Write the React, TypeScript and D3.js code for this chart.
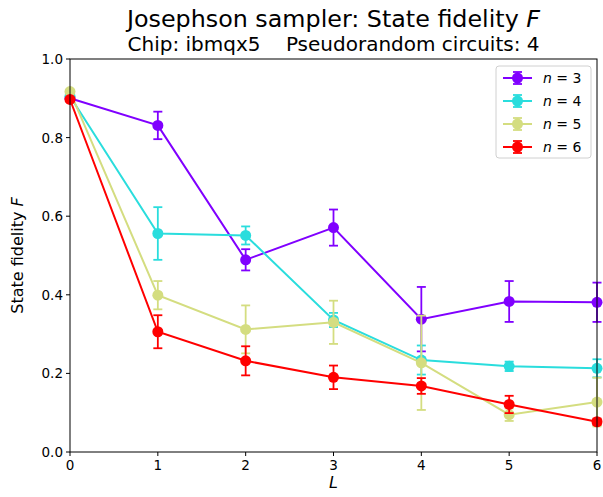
import React from "react";
import * as d3 from "d3";

const Ls = [0, 1, 2, 3, 4, 5, 6];
const seriesNames = ["3", "4", "5", "6"];
const colors = ["#8000ff", "#2adddd", "#d4dd80", "#ff0000"];
const values3 = [0.9, 0.831, 0.489, 0.571, 0.338, 0.383, 0.381];
const err3 = [0.005, 0.035, 0.027, 0.046, 0.082, 0.052, 0.050];
const values4 = [0.905, 0.556, 0.551, 0.336, 0.234, 0.218, 0.213];
const err4 = [0.005, 0.067, 0.023, 0.018, 0.037, 0.012, 0.023];
const values5 = [0.917, 0.399, 0.312, 0.330, 0.227, 0.095, 0.127];
const err5 = [0.005, 0.036, 0.061, 0.055, 0.12, 0.016, 0.062];
const values6 = [0.897, 0.306, 0.232, 0.19, 0.168, 0.121, 0.077];
const err6 = [0.005, 0.042, 0.037, 0.03, 0.02, 0.022, 0.008];
const xTicks = [0, 1, 2, 3, 4, 5, 6];
const yTicks = [0, 0.2, 0.4, 0.6, 0.8, 1.0];

const allValues = [values3, values4, values5, values6];
const allErrs = [err3, err4, err5, err6];

export default function App() {
  const W = 603, H = 497;
  const left = 70, right = 597, top = 59, bottom = 452;
  const x = d3.scaleLinear().domain([0, 6]).range([left, right]);
  const y = d3.scaleLinear().domain([0, 1]).range([bottom, top]);
  const line = d3.line<number>().x((_, i) => x(Ls[i])).y((d) => y(d));
  const font = "DejaVu Sans, sans-serif";
  const cap = 4.5;

  return (
    <svg width={W} height={H} style={{ position: "absolute", left: 0, top: 0 }} fontFamily={font}>
      <rect width={W} height={H} fill="white" />
      <text x={333.5} y={27} textAnchor="middle" fontSize={23.8}>
        Josephson sampler: State fidelity <tspan fontStyle="italic">F</tspan>
      </text>
      <text x={333.5} y={50.5} textAnchor="middle" fontSize={20} style={{ whiteSpace: "pre" }}>
        {"Chip: ibmqx5    Pseudorandom circuits: 4"}
      </text>
      {allValues.map((vals, s) => (
        <g key={s} stroke={colors[s]} fill={colors[s]}>
          <path d={line(vals) || ""} fill="none" strokeWidth={2} />
          {vals.map((v, i) => {
            const e = allErrs[s][i];
            const cx = x(Ls[i]);
            return (
              <g key={i} strokeWidth={1.8}>
                <line x1={cx} x2={cx} y1={y(v - e)} y2={y(v + e)} />
                <line x1={cx - cap} x2={cx + cap} y1={y(v - e)} y2={y(v - e)} />
                <line x1={cx - cap} x2={cx + cap} y1={y(v + e)} y2={y(v + e)} />
                <circle cx={cx} cy={y(v)} r={5.5} stroke="none" />
              </g>
            );
          })}
        </g>
      ))}
      <rect x={left} y={top} width={right - left} height={bottom - top} fill="none" stroke="black" strokeWidth={1} />
      {xTicks.map((t) => (
        <g key={t}>
          <line x1={x(t)} x2={x(t)} y1={bottom} y2={bottom + 4} stroke="black" />
          <text x={x(t)} y={bottom + 18} textAnchor="middle" fontSize={13.5}>{t}</text>
        </g>
      ))}
      {yTicks.map((t) => (
        <g key={t}>
          <line x1={left - 4} x2={left} y1={y(t)} y2={y(t)} stroke="black" />
          <text x={left - 7} y={y(t) + 5} textAnchor="end" fontSize={13.5}>{t.toFixed(1)}</text>
        </g>
      ))}
      <text x={333.5} y={488} textAnchor="middle" fontSize={16} fontStyle="italic">L</text>
      <text transform={`translate(23,${(top + bottom) / 2}) rotate(-90)`} textAnchor="middle" fontSize={16}>
        State fidelity <tspan fontStyle="italic">F</tspan>
      </text>
      <g>
        <rect x={496} y={66} width={95} height={92} rx={3} fill="white" fillOpacity={0.8} stroke="#d0d0d0" />
        {seriesNames.map((n, i) => {
          const ly = 78 + i * 23;
          return (
            <g key={n} stroke={colors[i]} fill={colors[i]}>
              <line x1={503} x2={532} y1={ly} y2={ly} strokeWidth={2} />
              <line x1={517.5} x2={517.5} y1={ly - 6} y2={ly + 6} strokeWidth={1.8} />
              <line x1={513} x2={522} y1={ly - 6} y2={ly - 6} strokeWidth={1.8} />
              <line x1={513} x2={522} y1={ly + 6} y2={ly + 6} strokeWidth={1.8} />
              <circle cx={517.5} cy={ly} r={5.5} stroke="none" />
              <text x={543} y={ly + 5} fontSize={14} fill="black" stroke="none">
                <tspan fontStyle="italic">n</tspan> = {n}
              </text>
            </g>
          );
        })}
      </g>
    </svg>
  );
}
